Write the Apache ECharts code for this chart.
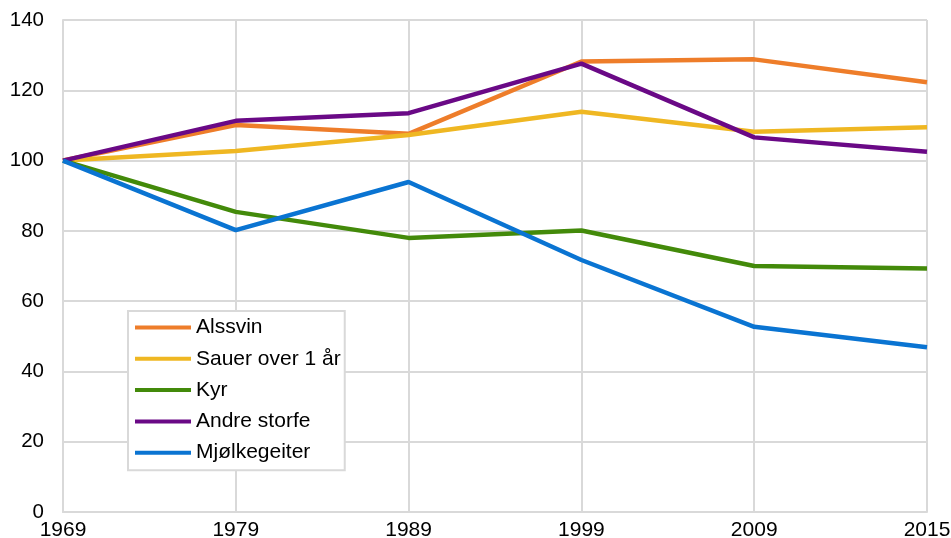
<!DOCTYPE html>
<html>
<head>
<meta charset="utf-8">
<script src="https://cdn.jsdelivr.net/npm/echarts@6/dist/echarts.min.js"></script>
<style>
  html, body { margin: 0; padding: 0; background: #fff; }
  #chart { width: 951px; height: 538px; }
</style>
</head>
<body>
<div id="chart"></div>
<script>
  // årstal (lik avstand i originalen)
  const years = ['1969', '1979', '1989', '1999', '2009', '2015'];
  // indeks, 1969 = 100
  const alssvin = [100, 110.1, 107.6, 128.2, 128.8, 122.3];
  const sauer = [100, 102.7, 107.3, 113.9, 108.2, 109.5];
  const kyr = [100, 85.4, 78.0, 80.1, 70.0, 69.3];
  const andreStorfe = [100, 111.3, 113.5, 127.6, 106.6, 102.5];
  const mjolkegeiter = [100, 80.2, 93.9, 71.7, 52.7, 46.9];

  const gridColor = '#d9d9d9';
  const font = 'Liberation Sans, Arial, sans-serif';

  function line(name, data, color) {
    return {
      name: name,
      type: 'line',
      data: data,
      showSymbol: false,
      symbol: 'none',
      lineStyle: { color: color, width: 4.5 },
      itemStyle: { color: color }
    };
  }

  const chart = echarts.init(document.getElementById('chart'));
  chart.setOption({
    animation: false,
    textStyle: { fontFamily: font },
    grid: { left: 63, right: 24, top: 20, bottom: 26, outerBoundsMode: 'none', containLabel: false },
    legend: {
      orient: 'vertical',
      left: 128,
      top: 311,
      icon: 'rect',
      itemWidth: 56,
      itemHeight: 4,
      itemGap: 10.3,
      padding: [6, 4, 7, 7],
      borderColor: gridColor,
      borderWidth: 2,
      backgroundColor: '#fff',
      textStyle: { fontSize: 21, color: '#000', fontFamily: font }
    },
    xAxis: {
      type: 'category',
      data: years,
      boundaryGap: false,
      axisLine: { lineStyle: { color: gridColor, width: 2 } },
      axisTick: { show: false },
      splitLine: { show: true, lineStyle: { color: gridColor, width: 2 } },
      axisLabel: { color: '#000', fontSize: 21, margin: 8, fontFamily: font }
    },
    yAxis: {
      type: 'value',
      min: 0,
      max: 140,
      interval: 20,
      axisLine: { show: true, lineStyle: { color: gridColor, width: 2 } },
      axisTick: { show: false },
      splitLine: { show: true, lineStyle: { color: gridColor, width: 2 } },
      axisLabel: { color: '#000', fontSize: 20.5, margin: 19, fontFamily: font }
    },
    series: [
      line('Alssvin', alssvin, '#ee7d2a'),
      line('Sauer over 1 år', sauer, '#efb722'),
      line('Kyr', kyr, '#438a0a'),
      line('Andre storfe', andreStorfe, '#6a0986'),
      line('Mjølkegeiter', mjolkegeiter, '#0a74d2')
    ]
  });
</script>
</body>
</html>
